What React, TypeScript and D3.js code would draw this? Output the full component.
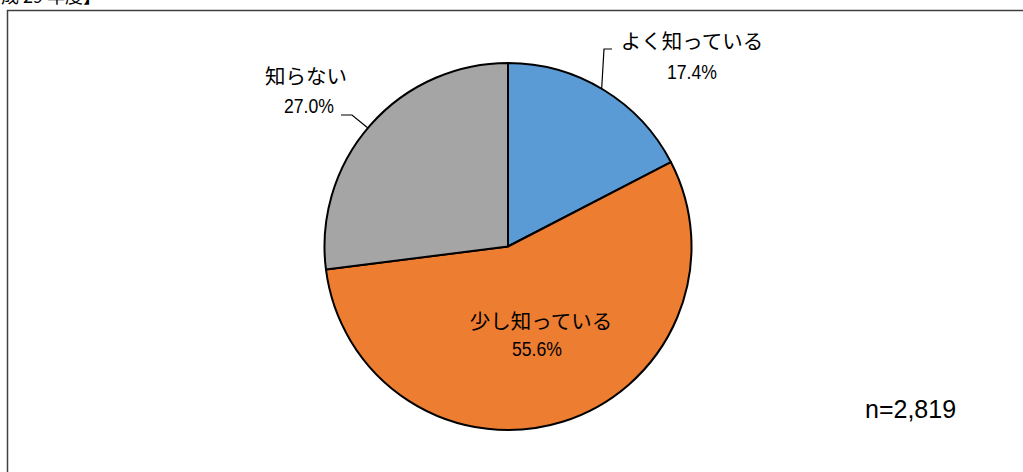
import React from "react";
import * as d3 from "d3";

const categories = ["よく知っている", "少し知っている", "知らない"];
const values = [17.4, 55.6, 27.0];
const colors = ["#5B9BD5", "#ED7D31", "#A5A5A5"];
const sampleLabel = "n=2,819";
const titleText = "【平成 29 年度】";

const W = 1023;
const H = 472;
const cx = 508;
const cy = 246.5;
const R = 183.5;

const jp = "'Noto Sans CJK JP', 'Noto Sans', sans-serif";
const sans = "'Liberation Sans', Arial, sans-serif";

export default function App() {
  const pie = d3.pie<number>().sort(null).value((d) => d);
  const arcs = pie(values);
  const arcGen = d3.arc<d3.PieArcDatum<number>>().innerRadius(0).outerRadius(R);

  const rim = (angle: number) => [cx + R * Math.sin(angle), cy - R * Math.cos(angle)];
  const blueRim = rim(arcs[0].startAngle + (arcs[0].endAngle - arcs[0].startAngle) * 0.49);
  const grayRim = rim(arcs[2].startAngle + (arcs[2].endAngle - arcs[2].startAngle) * 0.488);

  const pct = (v: number, x: number, y: number) => (
    <text
      x={x - 25}
      y={y}
      textLength={50}
      lengthAdjust="spacingAndGlyphs"
      fontFamily={sans}
      fontSize={20}
      fill="#000"
    >
      {v.toFixed(1)}%
    </text>
  );

  return (
    <svg width={W} height={H} style={{ position: "absolute", left: 0, top: 0, background: "#fff" }}>
      <text x={101} y={3} textAnchor="end" fontFamily={jp} fontSize={18} fill="#000">
        {titleText}
      </text>
      <rect x={7.5} y={10.5} width={W + 10} height={H + 10} fill="none" stroke="#404040" strokeWidth={1.5} />
      <g transform={`translate(${cx},${cy})`}>
        {arcs.map((a, i) => (
          <path key={i} d={arcGen(a) || ""} fill={colors[i]} stroke="#000" strokeWidth={2} strokeLinejoin="round" />
        ))}
      </g>
      <polyline
        points={`612,49 604,49 ${blueRim[0]},${blueRim[1]}`}
        fill="none"
        stroke="#000"
        strokeWidth={1.2}
      />
      <polyline
        points={`341,115 352,115 ${grayRim[0]},${grayRim[1]}`}
        fill="none"
        stroke="#000"
        strokeWidth={1.2}
      />
      <text x={692} y={49} textAnchor="middle" fontFamily={jp} fontSize={20.5} fill="#000">
        {categories[0]}
      </text>
      {pct(values[0], 692, 79)}
      <text x={541} y={329} textAnchor="middle" fontFamily={jp} fontSize={20.5} fill="#000">
        {categories[1]}
      </text>
      {pct(values[1], 537, 356)}
      <text x={306} y={84} textAnchor="middle" fontFamily={jp} fontSize={20.5} fill="#000">
        {categories[2]}
      </text>
      {pct(values[2], 309, 113)}
      <text x={865} y={418} fontFamily={sans} fontSize={25} fill="#000">
        {sampleLabel}
      </text>
    </svg>
  );
}
